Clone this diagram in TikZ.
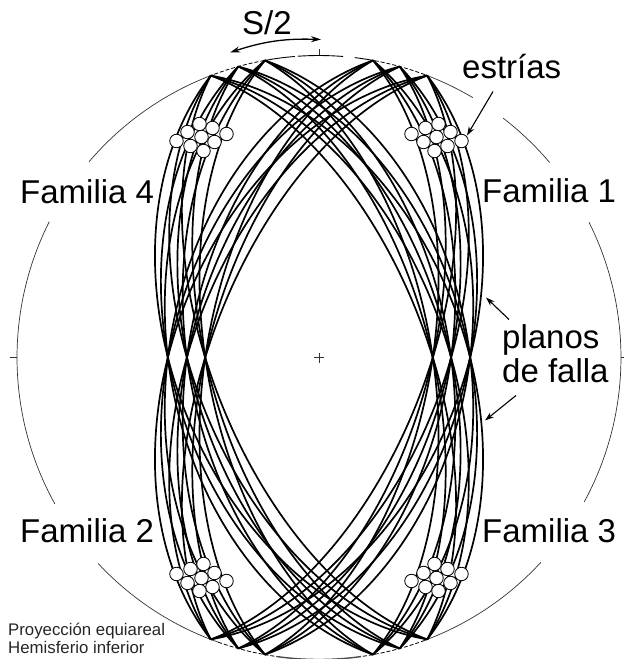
\documentclass[tikz,border=0pt]{standalone}
\usepackage{fontspec}
\setmainfont{Liberation Sans}
\usetikzlibrary{arrows.meta}
\tikzset{
  x=1pt,y=1pt,
  prim/.style={line width=0.7pt,black!80},
  primdash/.style={line width=0.8pt,black,dash pattern=on 4pt off 2pt},
  plane/.style={line width=1.7pt,black},
  dot/.style={circle,draw,line width=0.8pt,fill=white,minimum size=13.5pt,inner sep=0pt},
  lab/.style={inner sep=0pt,font=\fontsize{33}{35}\selectfont},
  small/.style={inner sep=0pt,font=\fontsize{16.8}{18}\selectfont,text=black!85},
  pointer/.style={line width=1.1pt,-{Stealth[length=9pt,width=6pt]}}
}
% \gc{azimuth}{dip}: great circle, equal-area, centre origin, R=302
\newcommand{\gc}[2]{%
  \draw[plane,domain=0:180,samples=61,smooth,variable=\t]
    plot ({302*(sin(#1)*cos(\t)+cos(#2)*cos(#1)*sin(\t))/sqrt(1+sin(#2)*sin(\t))},
          {302*(cos(#1)*cos(\t)-cos(#2)*sin(#1)*sin(\t))/sqrt(1+sin(#2)*sin(\t))});}
\newcommand{\famarcs}{%
  \gc{10.3}{59.5}\gc{10.3}{54.4}\gc{10.3}{49}%
  \gc{15.5}{60}\gc{15.5}{55}\gc{15.5}{49.6}%
  \gc{21}{60.8}\gc{21}{55.8}\gc{21}{50.5}%
}
\newcommand{\famdots}{%
  \foreach \p/\q in {92.5/223.5,106.5/229.5,119.5/233.5,131.5/225.5,142.5/216.5,104.5/215.5,117.5/220.5,128.5/211.5,115.5/206.5}{\node[dot] at (\p,\q) {};}}
\begin{document}
\begin{tikzpicture}
\useasboundingbox (-319,-301.5) rectangle (305,357.5);
% primitive circle, broken where labels sit
\draw[prim] (110.5:302) arc (110.5:139.6:302);
\draw[prim] (153.3:302) arc (153.3:209:302);
\draw[prim] (223:302) arc (223:250.5:302);
\draw[prim] (59.4:302) arc (59.4:69.5:302);
\draw[prim] (52.4:302) arc (52.4:40.2:302);
\draw[prim] (26.6:302) arc (26.6:-28.6:302);
\draw[prim] (-42.7:302) arc (-42.7:-69.5:302);
\draw[primdash] (69.5:302) arc (69.5:80.3:302);
\draw[primdash] (99.3:302) arc (99.3:110.5:302);
\draw[primdash] (250.5:302) arc (250.5:262:302);
\draw[primdash] (-69.5:302) arc (-69.5:-82:302);
\draw[line width=0.9pt] (80.3:302) arc (80.3:83.2:302);
\draw[line width=0.9pt] (85.4:302) arc (85.4:94:302);
\draw[line width=0.9pt] (94.6:302) arc (94.6:99.3:302);
\draw[line width=1.4pt,black!70] (262:302) arc (262:278:302);
% ticks and centre
\draw[prim] (90:302) -- (90:308);
\draw[prim] (180:302) -- (180:309);
\draw[prim] (0:302) -- (0:306);
\draw[prim] (-5,0) -- (5,0) (0,-5) -- (0,5);
% arcs
\begin{scope}\famarcs\end{scope}
\begin{scope}[xscale=-1]\famarcs\end{scope}
\begin{scope}[yscale=-1]\famarcs\end{scope}
\begin{scope}[xscale=-1,yscale=-1]\famarcs\end{scope}
\begin{scope}\famdots\end{scope}
\begin{scope}[xscale=-1]\famdots\end{scope}
\begin{scope}[yscale=-1]\famdots\end{scope}
\begin{scope}[xscale=-1,yscale=-1]\famdots\end{scope}
% labels
\node[lab,anchor=base west] (f4) at (-299,154) {Familia 4};
\node[lab,anchor=base west] (f1) at (163,155) {Familia 1};
\node[lab,anchor=base west] (f2) at (-299,-185) {Familia 2};
\node[lab,anchor=base west] (f3) at (163,-185) {Familia 3};
\node[lab,anchor=base west] (sl) at (-77,323) {S/2};
\node[lab,anchor=base west] (es) at (143,279) {estrías};
\node[lab,anchor=base west] (pl) at (183,9) {planos};
\node[lab,anchor=base west] (fa) at (183,-25) {de falla};
\node[small,anchor=base west] (p1) at (-311,-278) {Proyección equiareal};
\node[small,anchor=base west] (p2) at (-311,-296) {Hemisferio inferior};
% pointers
\coordinate (s1) at (-89,305);
\coordinate (s2) at (2,318);
\draw[line width=1.3pt,{Stealth[length=10pt,width=6pt]}-{Stealth[length=10pt,width=6pt]}] (s1) to[bend left=10] (s2);
\coordinate (e1) at (174,266);
\coordinate (e2) at (148,222);
\draw[pointer] (e1) -- (e2);
\coordinate (a1) at (190,38);
\coordinate (a2) at (167,60);
\draw[pointer] (a1) -- (a2);
\coordinate (b1) at (197,-38);
\coordinate (b2) at (166,-63);
\draw[pointer] (b1) -- (b2);
\end{tikzpicture}
\end{document}
